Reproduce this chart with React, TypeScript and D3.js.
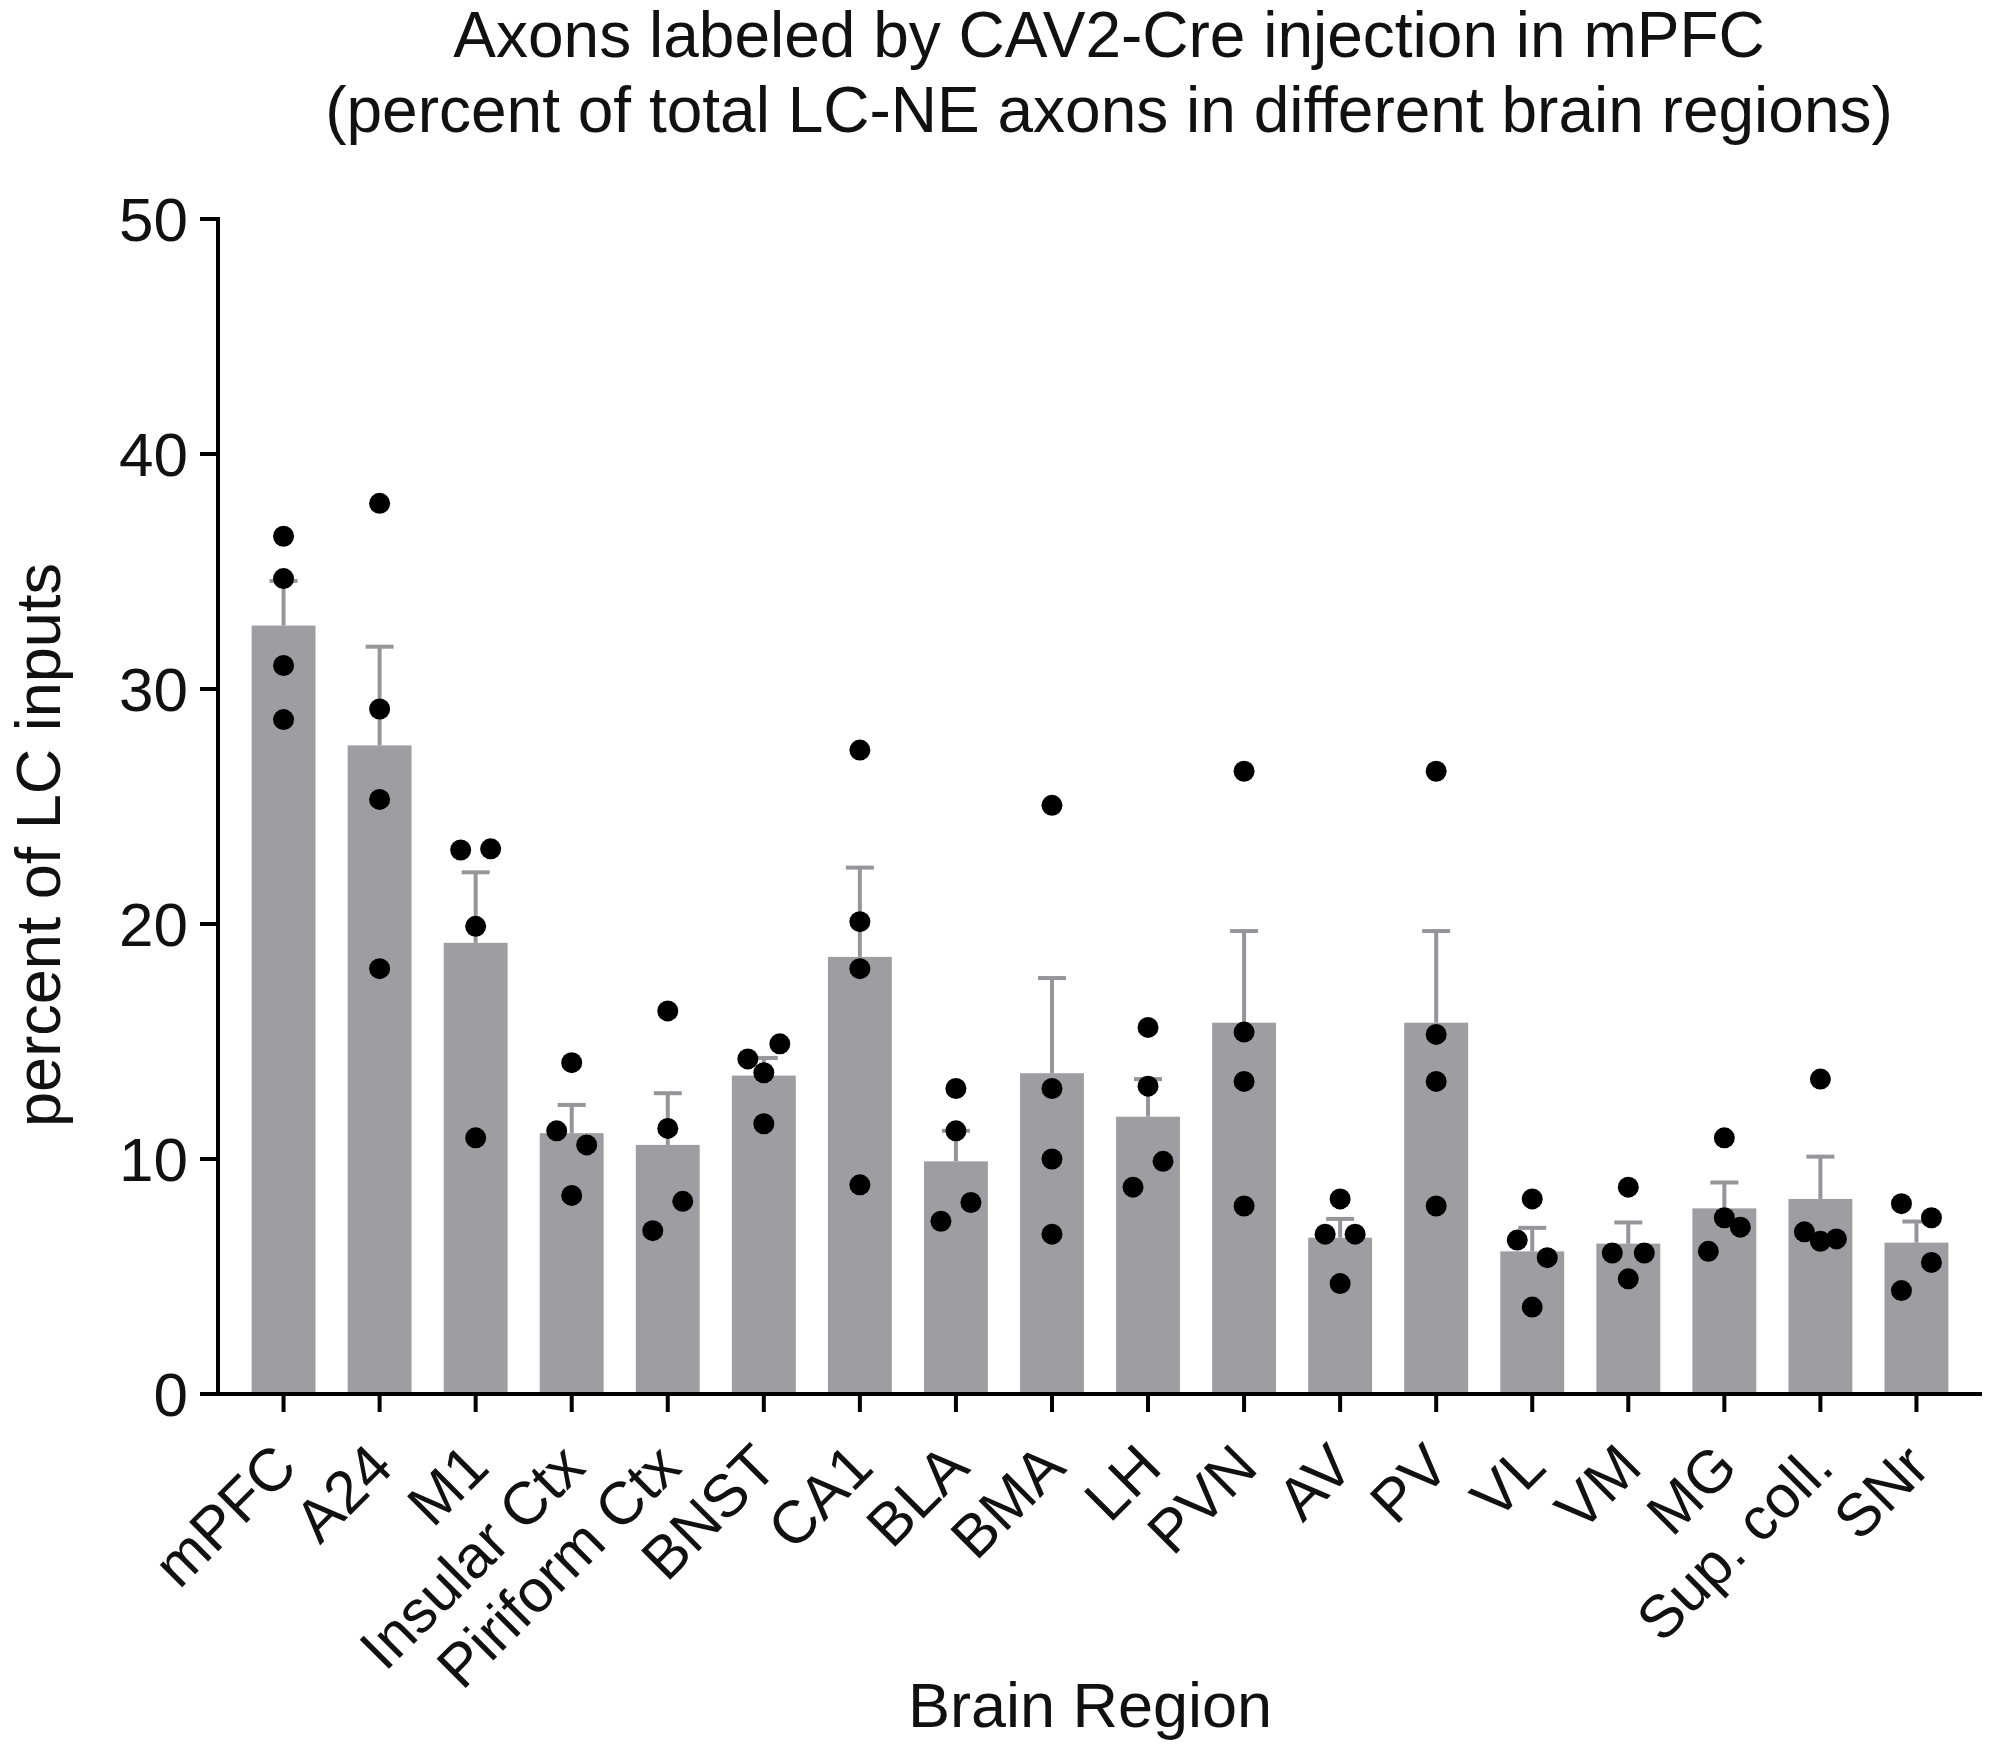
import React from 'react';
import * as d3 from 'd3';

const regions = ['mPFC', 'A24', 'M1', 'Insular Ctx', 'Piriform Ctx', 'BNST', 'CA1', 'BLA', 'BMA', 'LH', 'PVN', 'AV', 'PV', 'VL', 'VM', 'MG', 'Sup. coll.', 'SNr'];
const meanPercent = [32.7, 27.6, 19.2, 11.1, 10.6, 13.55, 18.6, 9.9, 13.65, 11.8, 15.8, 6.65, 15.8, 6.07, 6.4, 7.9, 8.3, 6.44];
const semPercent = [1.9, 4.2, 3.0, 1.2, 2.2, 0.75, 3.8, 1.3, 4.05, 1.6, 3.9, 0.8, 3.9, 1.0, 0.9, 1.1, 1.8, 0.9];
const animalPercent: number[][] = [
  [36.5, 34.7, 31.0, 28.7],
  [37.9, 29.15, 25.3, 18.1],
  [23.15, 23.2, 19.9, 10.9],
  [14.1, 11.2, 10.6, 8.45],
  [16.3, 11.3, 6.95, 8.2],
  [14.26, 13.67, 14.9, 11.5],
  [27.4, 20.1, 18.1, 8.9],
  [13.0, 11.2, 7.35, 8.15],
  [25.05, 13.0, 10.0, 6.8],
  [15.6, 13.1, 8.8, 9.9],
  [26.5, 15.4, 13.3, 8.0],
  [8.3, 6.8, 6.8, 4.7],
  [26.5, 15.3, 13.3, 8.0],
  [8.3, 6.55, 5.8, 3.7],
  [8.8, 6.0, 4.9, 6.0],
  [10.9, 6.07, 7.5, 7.1],
  [13.4, 6.9, 6.5, 6.6],
  [8.1, 7.5, 4.4, 5.6],
];
const yTicks = [0, 10, 20, 30, 40, 50];
const titleLines = ['Axons labeled by CAV2-Cre injection in mPFC', '(percent of total LC-NE axons in different brain regions)'];
const yLabel = 'percent of LC inputs';
const xLabel = 'Brain Region';

const W = 1995;
const H = 1755;
const axisX = 218;
const axisY = 1394;
const topY = 219;
const FONT = '"Liberation Sans", Arial, Helvetica, sans-serif';
const BAR = '#9e9ea2';
const ERR = '#96969a';

const x = d3.scaleBand<string>().domain(regions).range([axisX, 1982]).paddingInner(0.335).paddingOuter(0.35);
const y = d3.scaleLinear().domain([0, 50]).range([axisY, topY]);

function swarmOffsets(vals: number[]): number[] {
  const ys = vals.map((v) => y(v));
  const order = vals.map((_, i) => i).sort((a, b) => ys[a] - ys[b]);
  const clusters: number[][] = [];
  order.forEach((i, k) => {
    if (k > 0 && ys[i] - ys[order[k - 1]] < 31) clusters[clusters.length - 1].push(i);
    else clusters.push([i]);
  });
  const off = vals.map(() => 0);
  clusters.forEach((c) => {
    const m = [...c].sort((a, b) => a - b);
    const n = m.length;
    const sp = n === 2 ? 30 : 16;
    m.forEach((idx, j) => {
      off[idx] = (j - (n - 1) / 2) * sp;
    });
  });
  return off;
}

export default function App() {
  const bw = x.bandwidth();
  return (
    <svg width={W} height={H} viewBox={`0 0 ${W} ${H}`} style={{ position: 'absolute', left: 0, top: 0, background: '#fff' }} fontFamily={FONT}>
      <rect x={0} y={0} width={W} height={H} fill="#fff" />
      {titleLines.map((t, i) => (
        <text key={t} x={1109} y={57 + i * 75} textAnchor="middle" fontSize={64} fill="#111">{t}</text>
      ))}
      {/* bars */}
      {regions.map((r, i) => (
        <rect key={r} x={x(r)!} y={y(meanPercent[i])} width={bw} height={axisY - y(meanPercent[i])} fill={BAR} />
      ))}
      {/* error bars */}
      {regions.map((r, i) => {
        const cx = x(r)! + bw / 2;
        const top = y(meanPercent[i] + semPercent[i]);
        return (
          <g key={r} stroke={ERR} strokeWidth={4}>
            <line x1={cx} x2={cx} y1={y(meanPercent[i])} y2={top} />
            <line x1={cx - 14} x2={cx + 14} y1={top} y2={top} />
          </g>
        );
      })}
      {/* dots */}
      {regions.map((r, i) => {
        const cx = x(r)! + bw / 2;
        const off = swarmOffsets(animalPercent[i]);
        return animalPercent[i].map((v, j) => (
          <circle key={`${r}-${j}`} cx={cx + off[j]} cy={y(v)} r={10.5} fill="#000" />
        ));
      })}
      {/* y axis */}
      <line x1={axisX} x2={axisX} y1={topY - 2} y2={axisY + 2} stroke="#000" strokeWidth={4} />
      {yTicks.map((t) => (
        <g key={t}>
          <line x1={axisX - 18} x2={axisX} y1={y(t)} y2={y(t)} stroke="#000" strokeWidth={4} />
          <text x={axisX - 30} y={y(t)} textAnchor="end" dominantBaseline="central" fontSize={62} fill="#111">{t}</text>
        </g>
      ))}
      {/* x axis */}
      <line x1={axisX - 2} x2={1982} y1={axisY} y2={axisY} stroke="#000" strokeWidth={4} />
      {regions.map((r) => {
        const cx = x(r)! + bw / 2;
        const ax = cx + 16;
        const ay = axisY + 76;
        return (
          <g key={r}>
            <line x1={cx} x2={cx} y1={axisY} y2={axisY + 18} stroke="#000" strokeWidth={4} />
            <text x={ax} y={ay} textAnchor="end" fontSize={60} fill="#111" transform={`rotate(-45, ${ax}, ${ay})`}>{r}</text>
          </g>
        );
      })}
      <text x={1090} y={1727} textAnchor="middle" fontSize={63} fill="#111">{xLabel}</text>
      <text x={60} y={845} textAnchor="middle" fontSize={63} fill="#111" transform={`rotate(-90, 60, 845)`}>{yLabel}</text>
    </svg>
  );
}
